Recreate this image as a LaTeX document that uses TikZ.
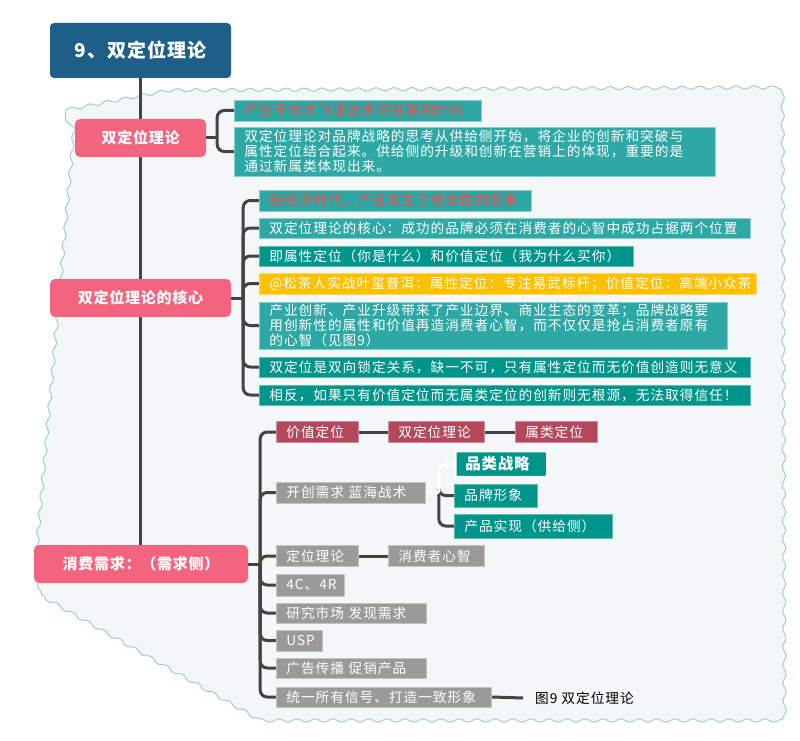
\documentclass[tikz,border=0pt]{standalone}
\usepackage{fontspec}
\setmainfont[LetterSpace=5]{Noto Sans CJK SC}
\newfontfamily\bodyfam[LetterSpace=7]{Noto Sans CJK SC}
\usetikzlibrary{decorations.pathmorphing}
\definecolor{titlebg}{HTML}{1E5F87}
\definecolor{pink}{HTML}{F3657E}
\definecolor{tealL}{HTML}{2DA8A5}
\definecolor{tealLb}{HTML}{86CFCC}
\definecolor{tealD}{HTML}{00958B}
\definecolor{tealDb}{HTML}{5DBDB6}
\definecolor{amber}{HTML}{FFC000}
\definecolor{amberb}{HTML}{FFD966}
\definecolor{crim}{HTML}{B4485D}
\definecolor{crimb}{HTML}{D48A98}
\definecolor{grayb}{HTML}{9A9A9A}
\definecolor{graybd}{HTML}{C4C4C4}
\definecolor{redtxt}{HTML}{F24E4E}
\definecolor{lineC}{HTML}{434343}
\definecolor{waveC}{HTML}{9CCFD0}
\definecolor{bgC}{HTML}{F3F7F8}
\newcommand\fsbody{\bodyfam\fontsize{13.7}{15}\selectfont}
\newcommand\fspink{\fontsize{15}{17}\selectfont\bfseries}
\pgfdeclarelayer{bgzero}
\pgfdeclarelayer{lines}
\pgfsetlayers{bgzero,lines,main}
\begin{document}
\begin{tikzpicture}[x=1pt,y=-1pt,
  conn/.style={draw=lineC, line width=3pt},
  rc/.style={rounded corners=7pt},
  connw/.style={draw=white, line width=3pt},
  bx/.style={anchor=west, inner xsep=10pt, inner ysep=0pt, align=left, font=\fsbody, text=white, line width=0.8pt},
  tl/.style={bx, fill=tealL, draw=tealLb},
  td/.style={bx, fill=tealD, draw=tealDb},
  am/.style={bx, fill=amber, draw=amberb},
  cr/.style={bx, fill=crim, draw=crimb},
  gy/.style={bx, fill=grayb, draw=graybd},
  pk/.style={fill=pink, rounded corners=5pt, text=white, font=\fspink, inner sep=0pt},
]
\useasboundingbox (0,0) rectangle (800,741);
\begin{pgfonlayer}{bgzero}
\fill[white] (0,0) rectangle (800,741);
\path[fill=bgC, draw=waveC, line width=1pt, decorate, decoration={snake, segment length=18pt, amplitude=1.6pt}]
  (66,110) -- (160,92) -- (775,89) -- (777,717) -- (250,717) -- (30,592) -- (26,560) -- cycle;
\end{pgfonlayer}

% title and level-1 nodes
\node[fill=titlebg, rounded corners=4pt, text=white, font=\fontsize{19}{21}\selectfont\bfseries,
      minimum width=181pt, minimum height=55pt, inner sep=0pt] (title) at (140.5,50.5) {9、双定位理论};
\node[pk, minimum width=131pt, minimum height=38pt] (p1) at (140.5,138) {双定位理论};
\node[pk, minimum width=181pt, minimum height=38pt] (p2) at (140.5,298) {双定位理论的核心};
\node[pk, minimum width=214pt, minimum height=38pt] (p3) at (141,564) {消费需求：（需求侧）};

% children of p1
\node[tl, text width=227pt, minimum height=21pt, text=redtxt] (a) at (234,110.5) {产生于技术飞速进步的互联网时代};
\node[tl, text width=461pt, minimum height=49pt] (b) at (234,151.5) {双定位理论对品牌战略的思考从供给侧开始，将企业的创新和突破与\\属性定位结合起来。供给侧的升级和创新在营销上的体现，重要的是\\通过新属类体现出来。};

% children of p2
\node[tl, text width=252pt, minimum height=21pt, text=redtxt] (c1) at (259,200.5) {新经济时代，产业发生了根本性的变革};
\node[tl, text width=471pt, minimum height=20pt] (c2) at (259,228) {双定位理论的核心：成功的品牌必须在消费者的心智中成功占据两个位置};
\node[td, text width=354pt, minimum height=20pt] (c3) at (259,256) {即属性定位（你是什么）和价值定位（我为什么买你）};
\node[am, text width=477pt, minimum height=21pt] (c4) at (259,283.5) {@松茶人实战叶玺普洱：属性定位：专注易武标杆；价值定位：高端小众茶};
\node[tl, text width=448pt, minimum height=47pt] (c5) at (259,325.5) {产业创新、产业升级带来了产业边界、商业生态的变革；品牌战略要\\用创新性的属性和价值再造消费者心智，而不仅仅是抢占消费者原有\\的心智（见图9）};
\node[td, text width=471pt, minimum height=20pt] (c6) at (259,367) {双定位是双向锁定关系，缺一不可，只有属性定位而无价值创造则无意义};
\node[td, text width=471pt, minimum height=20pt] (c7) at (259,395) {相反，如果只有价值定位而无属类定位的创新则无根源，无法取得信任！};

% children of p3
\node[cr, text width=62pt, minimum height=21pt] (d1) at (276,432) {价值定位};
\node[cr, text width=76pt, minimum height=21pt] (d2) at (388,432) {双定位理论};
\node[cr, text width=62pt, minimum height=21pt] (d3) at (515,432) {属类定位};
\node[gy, text width=129pt, minimum height=21pt] (e) at (276,492.5) {开创需求 蓝海战术};
\node[td, draw=white, line width=2.5pt, rounded corners=2pt, text width=72pt, minimum height=26pt,
      font=\fontsize{15.5}{17}\selectfont\bfseries] (e1) at (454,464) {品类战略};
\node[td, text width=63pt, minimum height=23pt] (e2) at (454,495.5) {品牌形象};
\node[td, text width=138pt, minimum height=24pt] (e3) at (454,526) {产品实现（供给侧）};
\node[gy, text width=62pt, minimum height=21pt] (f) at (276,556) {定位理论};
\node[gy, text width=76pt, minimum height=21pt] (f2) at (388,556) {消费者心智};
\node[gy, text width=48pt, minimum height=22pt] (g) at (276,585) {4C、4R};
\node[gy, text width=130pt, minimum height=20pt] (h) at (276,613) {研究市场 发现需求};
\node[gy, text width=26pt, minimum height=21pt] (i) at (276,640.5) {USP};
\node[gy, text width=130pt, minimum height=20pt] (j) at (276,668) {广告传播 促销产品};
\node[gy, text width=195pt, minimum height=20pt] (k) at (276,697) {统一所有信号、打造一致形象};
\node[anchor=west, inner xsep=12pt, inner ysep=0pt, font=\fsbody, text=black] (cap) at (523,698) {图9 双定位理论};

% connectors (behind boxes)
\begin{pgfonlayer}{lines}
\draw[conn] (title.south) -- (title.south |- p3.north);
% p1
\draw[conn] (p1.east) -- ++(11,0) coordinate (j1);
\foreach \n in {a,b} \draw[conn, rc] (j1) |- (\n.west);
% p2
\draw[conn] (p2.east) -- ++(12,0) coordinate (j2);
\foreach \n in {c1,c2,c3,c4,c5,c6,c7} \draw[conn, rc] (j2) |- (\n.west);
% p3
\draw[conn] (p3.east) -- ++(12,0) coordinate (j3);
\foreach \n in {d1,e,f,g,h,i,j,k} \draw[conn, rc] (j3) |- (\n.west);
% chains
\draw[conn] (d1.east) -- (d2.west);
\draw[conn] (d2.east) -- (d3.west);
\draw[conn] (f.east) -- (f2.west);
\draw[conn] (k.east) -- (cap.west);
% e sub-bracket
\coordinate (j4) at ([xshift=13pt]e.east);
\draw[conn, rc] (j4) |- (e2.west);
\draw[conn, rc] (j4) |- (e3.west);
\draw[connw] (e.east) -- (j4);
\draw[connw, rc] (j4) |- (e1.west);
\end{pgfonlayer}
\end{tikzpicture}
\end{document}
